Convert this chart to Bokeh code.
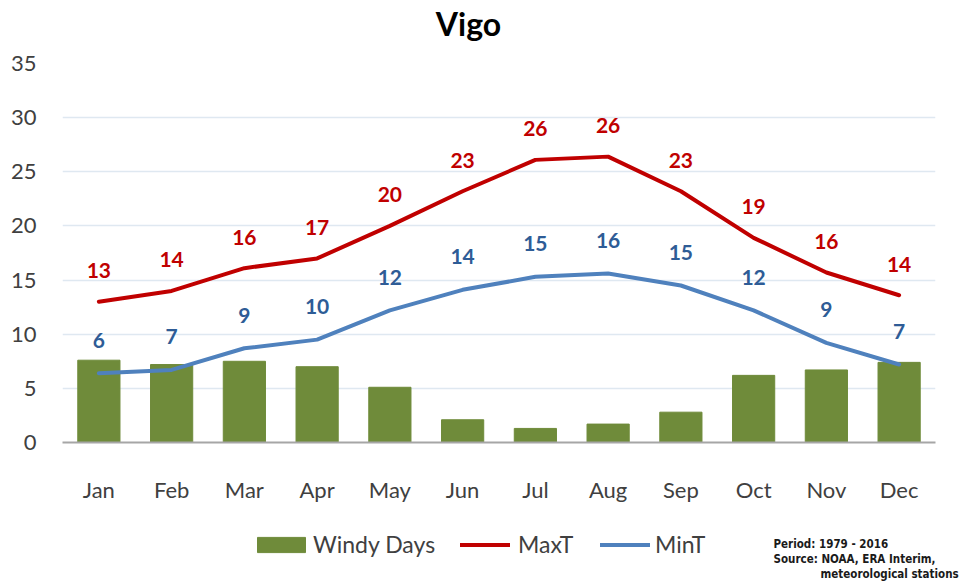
from bokeh.plotting import figure
from bokeh.models import (ColumnDataSource, LabelSet, Label, Legend, LegendItem, FactorRange,
                          Range1d, SingleIntervalTicker)
from bokeh.layouts import column
from bokeh.core.properties import value
from bokeh.embed import file_html
from bokeh.resources import INLINE

months = ["Jan", "Feb", "Mar", "Apr", "May", "Jun", "Jul", "Aug", "Sep", "Oct", "Nov", "Dec"]
windy_days = [7.6, 7.2, 7.5, 7.0, 5.1, 2.1, 1.3, 1.7, 2.8, 6.2, 6.7, 7.4]
max_t = [13.0, 14.0, 16.1, 17.0, 20.0, 23.2, 26.1, 26.4, 23.2, 18.9, 15.7, 13.6]
min_t = [6.4, 6.7, 8.7, 9.5, 12.2, 14.1, 15.3, 15.6, 14.5, 12.2, 9.2, 7.2]
max_labels = ["13", "14", "16", "17", "20", "23", "26", "26", "23", "19", "16", "14"]
min_labels = ["6", "7", "9", "10", "12", "14", "15", "16", "15", "12", "9", "7"]
series_names = ["Windy Days", "MaxT", "MinT"]
chart_title = "Vigo"
note_lines = ["Period: 1979 - 2016", "Source: NOAA, ERA Interim,", "meteorological stations"]

FONT = "Lato"
GREEN = "#6f8b3a"
RED = "#c00000"
BLUE = "#4f81bd"
BLUE_TXT = "#2e5c96"
GRAY_TXT = "#404040"

W = 967
H_TOP, H_MAIN, H_BOT = 44, 461, 77

src = ColumnDataSource(dict(m=months, w=windy_days, hi=max_t, lo=min_t,
                            hil=max_labels, lol=min_labels))


def strip(h):
    f = figure(width=W, height=h, x_range=Range1d(0, W), y_range=Range1d(0, h),
               x_axis_type=None, y_axis_type=None, output_backend="svg", toolbar_location=None,
               min_border=0, min_border_left=0, min_border_right=0,
               min_border_top=0, min_border_bottom=0)
    f.frame_align = False
    f.outline_line_color = None
    f.grid.visible = False
    return f


# ---------------- title strip ----------------
t = strip(H_TOP)
t.add_layout(Label(x=468, y=21, text=chart_title, text_align="center", text_baseline="middle",
                   text_font=FONT, text_font_size="32px", text_font_style="bold",
                   text_color="black"))

# ---------------- main chart ----------------
p = figure(x_range=FactorRange(*months, range_padding=0), y_range=Range1d(0, 35),
           width=W, height=H_MAIN, output_backend="svg", toolbar_location=None,
           min_border_left=62, min_border_right=W - 935, min_border_top=19, min_border_bottom=56)
p.frame_align = False
p.outline_line_color = None
p.background_fill_color = "white"
p.border_fill_color = "white"

p.vbar(x="m", top="w", width=0.58, source=src, fill_color=GREEN, line_color=GREEN)
p.line(x="m", y="hi", source=src, line_color=RED, line_width=4, line_cap="round")
p.line(x="m", y="lo", source=src, line_color=BLUE, line_width=4, line_cap="round")

p.add_layout(LabelSet(x="m", y="hi", text="hil", source=src, y_offset=31,
                      text_align="center", text_baseline="middle",
                      text_font=value(FONT), text_font_size="21px", text_font_style="bold",
                      text_color=RED))
p.add_layout(LabelSet(x="m", y="lo", text="lol", source=src, y_offset=33,
                      text_align="center", text_baseline="middle",
                      text_font=value(FONT), text_font_size="21px", text_font_style="bold",
                      text_color=BLUE_TXT))

p.yaxis.ticker = SingleIntervalTicker(interval=5)
p.yaxis.axis_line_color = None
p.yaxis.major_tick_line_color = None
p.yaxis.minor_tick_line_color = None
p.yaxis.major_label_standoff = 20
p.yaxis.major_label_text_font = FONT
p.yaxis.major_label_text_font_size = "22px"
p.yaxis.major_label_text_color = GRAY_TXT

p.xaxis.axis_line_color = "#a6a6a6"
p.xaxis.axis_line_width = 2
p.xaxis.major_tick_line_color = None
p.xaxis.minor_tick_line_color = None
p.xaxis.major_label_standoff = 27
p.xaxis.major_label_text_font = FONT
p.xaxis.major_label_text_font_size = "22px"
p.xaxis.major_label_text_color = GRAY_TXT

p.xgrid.grid_line_color = None
p.ygrid.grid_line_color = "#dfe8f1"
p.ygrid.grid_line_width = 1.5

# ---------------- legend + source strip ----------------
q = strip(H_BOT)

# legend proxies (kept outside the visible range)
rb = q.vbar(x=[-100], top=[-10], width=1, fill_color=GREEN, line_color=GREEN)
rh = q.line(x=[-100, -90], y=[-10, -10], line_color=RED, line_width=4, line_cap="round")
rl = q.line(x=[-100, -90], y=[-10, -10], line_color=BLUE, line_width=4, line_cap="round")

common = dict(orientation="horizontal", label_text_font=FONT, label_text_font_size="23px",
              label_text_color=GRAY_TXT, padding=0, margin=0, border_line_color=None,
              background_fill_alpha=0)
q.add_layout(Legend(items=[LegendItem(label=series_names[0], renderers=[rb])],
                    location=(251, 24), glyph_width=60, glyph_height=19, label_standoff=2,
                    **common), "center")
q.add_layout(Legend(items=[LegendItem(label=series_names[1], renderers=[rh])],
                    location=(460, 24), glyph_width=50, glyph_height=19, label_standoff=8,
                    **common), "center")
q.add_layout(Legend(items=[LegendItem(label=series_names[2], renderers=[rl])],
                    location=(600, 24), glyph_width=50, glyph_height=19, label_standoff=5,
                    **common), "center")

for (tx, ty, tt) in [(773, 39, note_lines[0]), (773, 24, note_lines[1]), (820, 9, note_lines[2])]:
    q.add_layout(Label(x=tx, y=ty, text=tt, text_align="left", text_baseline="middle",
                       text_font="DejaVu Sans Condensed", text_font_size="11.5px",
                       text_font_style="bold", text_color="#1a1a1a"))

layout = column(t, p, q, spacing=0)
open("out.html", "w").write(file_html(layout, INLINE))
